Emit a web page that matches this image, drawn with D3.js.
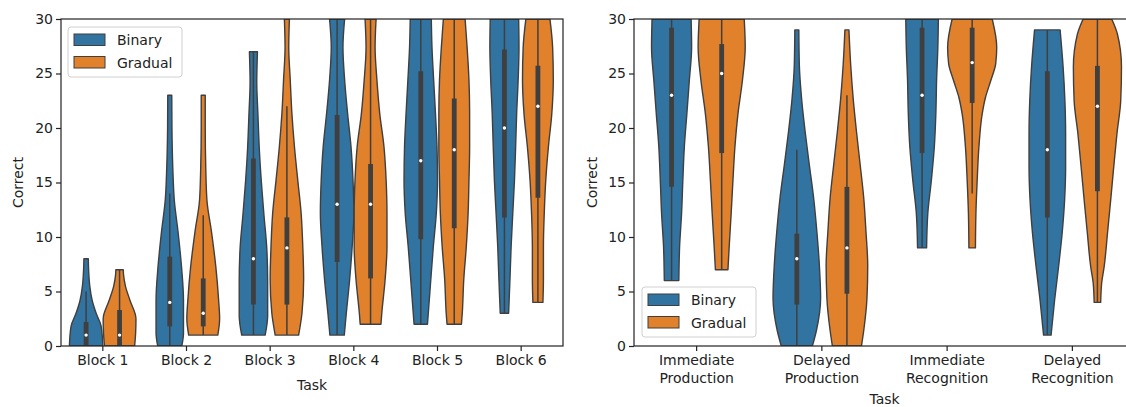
<!DOCTYPE html>
<html>
<head>
<meta charset="utf-8">
<script src="https://cdn.jsdelivr.net/npm/d3@7"></script>
<style>
  html, body { margin: 0; padding: 0; background: #fff; }
  svg { display: block; font-family: 'DejaVu Sans', sans-serif; }
</style>
</head>
<body>
<svg id="chart" width="1126" height="407"></svg>
<script>
'use strict';

// categories
const leftTasks = ['Block 1', 'Block 2', 'Block 3', 'Block 4', 'Block 5', 'Block 6'];
const rightTasks = ['Immediate\nProduction', 'Delayed\nProduction', 'Immediate\nRecognition', 'Delayed\nRecognition'];
const groups = ['Binary', 'Gradual'];
const yTicks = [0, 5, 10, 15, 20, 25, 30];

// box stats per violin: [whisker low, q1, median, q3, whisker high]
const leftBinaryBox = [
  [0, 0, 1, 2.2, 5], [0, 1.8, 4, 8.2, 14], [1, 3.8, 8, 17.2, 27],
  [1, 7.7, 13, 21.2, 30], [2, 9.8, 17, 25.2, 30], [3, 11.8, 20, 27.2, 30]
];
const leftGradualBox = [
  [0, 0, 1, 3.3, 7], [1, 1.8, 3, 6.2, 12], [1, 3.8, 9, 11.8, 22],
  [2, 6.2, 13, 16.7, 30], [2, 10.8, 18, 22.7, 30], [4, 13.6, 22, 25.7, 30]
];
const rightBinaryBox = [
  [6, 14.6, 23, 29.2, 30], [0, 3.8, 8, 10.3, 18], [9, 17.7, 23, 29.2, 30], [1, 11.8, 18, 25.2, 29]
];
const rightGradualBox = [
  [7, 17.7, 25, 27.7, 30], [0, 4.8, 9, 14.6, 23], [14, 22.3, 26, 29.2, 30], [4, 14.2, 22, 25.7, 30]
];

// violin shapes: [value, relative density] from min to max
const leftBinaryShape = [
  [[0, 1.0], [1.8, 0.90], [3, 0.6], [4.2, 0.36], [5.5, 0.22], [7, 0.15], [8, 0.13]],
  [[0, 0.72], [1.2, 0.82], [4.2, 0.82], [7.3, 0.70], [10.4, 0.50], [13.4, 0.27], [16.4, 0.18], [20, 0.13], [23, 0.12]],
  [[1, 0.70], [2.8, 0.85], [5.9, 0.85], [8.9, 0.80], [12, 0.63], [15.1, 0.47], [18.1, 0.35], [21.2, 0.27], [24.2, 0.20], [27, 0.24]],
  [[1, 0.43], [3, 0.55], [6.1, 0.75], [9.1, 0.90], [12.2, 1.0], [15.2, 0.95], [18.3, 0.83], [21.3, 0.63], [24.4, 0.45], [27.4, 0.35], [30, 0.45]],
  [[2, 0.40], [3, 0.45], [6.1, 0.60], [9.1, 0.75], [12.2, 0.93], [15.2, 1.0], [18.3, 0.97], [21.3, 0.88], [24.4, 0.77], [27.4, 0.67], [30, 0.63]],
  [[3, 0.25], [6.1, 0.33], [9.1, 0.40], [12.2, 0.50], [15.2, 0.60], [18.3, 0.67], [21.3, 0.73], [24.4, 0.82], [27.4, 0.87], [30, 0.85]]
];
const leftGradualShape = [
  [[0, 0.90], [1.2, 0.96], [2.5, 0.98], [4.2, 0.62], [5.5, 0.35], [6.5, 0.24], [7, 0.22]],
  [[1, 0.87], [2.5, 0.98], [4.2, 0.92], [7.3, 0.75], [10.4, 0.50], [13.4, 0.22], [16.4, 0.15], [20, 0.12], [23, 0.12]],
  [[1, 0.70], [3, 0.90], [6.1, 1.0], [9.1, 0.95], [12.2, 0.85], [15.2, 0.65], [18.3, 0.45], [21.3, 0.30], [24.4, 0.20], [27.4, 0.11], [30, 0.15]],
  [[2, 0.62], [3, 0.67], [6.1, 0.87], [9.1, 0.98], [12.2, 0.98], [15.2, 0.93], [18.3, 0.80], [21.3, 0.55], [24.4, 0.38], [27.4, 0.27], [30, 0.33]],
  [[2, 0.43], [3, 0.48], [6.1, 0.57], [9.1, 0.72], [12.2, 0.83], [15.2, 0.88], [18.3, 0.92], [21.3, 0.92], [24.4, 0.88], [27.4, 0.77], [30, 0.65]],
  [[4, 0.30], [6.1, 0.33], [9.1, 0.33], [12.2, 0.38], [15.2, 0.47], [18.3, 0.63], [21.3, 0.83], [24.4, 0.92], [27.4, 0.88], [30, 0.72]]
];
const rightBinaryShape = [
  [[6, 0.29], [9.1, 0.32], [12.2, 0.40], [15.2, 0.45], [18.3, 0.51], [21.3, 0.61], [24.4, 0.71], [27.4, 0.80], [30, 0.78]],
  [[0, 0.62], [1.4, 0.78], [4.4, 0.95], [7.4, 0.90], [10.5, 0.80], [13.6, 0.67], [16.6, 0.50], [19.7, 0.33], [22.7, 0.19], [25.8, 0.10], [29, 0.08]],
  [[9, 0.18], [12.2, 0.23], [15.2, 0.37], [18.3, 0.49], [21.3, 0.55], [24.4, 0.58], [27.4, 0.63], [30, 0.65]],
  [[1, 0.15], [4.2, 0.29], [7.3, 0.45], [10.3, 0.59], [13.4, 0.69], [16.4, 0.73], [19.5, 0.73], [22.6, 0.70], [25.6, 0.63], [29, 0.51]]
];
const rightGradualShape = [
  [[7, 0.25], [9.1, 0.30], [12.2, 0.38], [15.2, 0.45], [18.3, 0.53], [21.3, 0.65], [24.4, 0.83], [27.4, 0.94], [30, 0.90]],
  [[0, 0.58], [1.4, 0.67], [4.4, 0.80], [7.4, 0.83], [10.5, 0.76], [13.6, 0.67], [16.6, 0.53], [19.7, 0.38], [22.7, 0.25], [25.8, 0.15], [29, 0.08]],
  [[9, 0.13], [12.2, 0.15], [15.2, 0.20], [18.3, 0.27], [21.3, 0.40], [22.8, 0.53], [24.4, 0.75], [25.9, 0.94], [27.4, 0.98], [30, 0.80]],
  [[4, 0.13], [5.8, 0.17], [7.3, 0.27], [10.3, 0.40], [13.4, 0.53], [16.4, 0.65], [19.5, 0.78], [22.5, 0.93], [25.6, 0.96], [28.6, 0.80], [30, 0.57]]
];

const colors = d3.scaleOrdinal().domain(groups).range(['#3274a1', '#e1812c']);
const lineColor = '#3f3f3f';
const plotTop = 19, plotBottom = 346;

const svg = d3.select('#chart');

function drawPanel(opts) {
  const g = svg.append('g');

  const x = d3.scaleBand().domain(opts.tasks).range(opts.xRange);
  const hue = d3.scaleBand().domain(groups).range([x.bandwidth() * 0.1, x.bandwidth() * 0.9]);
  const w = d3.scaleLinear().domain([0, 1]).range([0, hue.bandwidth() / 2]);
  const y = d3.scaleLinear().domain([0, 30]).range([plotBottom, plotTop]);

  const clipId = 'clip-' + opts.id;
  g.append('clipPath').attr('id', clipId)
    .append('rect')
    .attr('x', opts.xRange[0]).attr('y', plotTop)
    .attr('width', opts.xRange[1] - opts.xRange[0]).attr('height', plotBottom - plotTop);

  const plot = g.append('g').attr('clip-path', `url(#${clipId})`);

  const area = d3.area()
    .curve(d3.curveMonotoneY)
    .y(d => y(d[0]));

  groups.forEach((grp, gi) => {
    const shapes = opts.shapes[gi];
    const boxes = opts.boxes[gi];
    opts.tasks.forEach((task, ti) => {
      const cx = x(task) + hue(grp) + hue.bandwidth() / 2;
      plot.append('path')
        .datum(shapes[ti])
        .attr('d', area.x0(d => cx - w(d[1])).x1(d => cx + w(d[1])))
        .attr('fill', colors(grp))
        .attr('stroke', lineColor)
        .attr('stroke-width', 1.4)
        .attr('stroke-linejoin', 'round');

      const b = boxes[ti];
      plot.append('line')
        .attr('x1', cx).attr('x2', cx)
        .attr('y1', y(b[0])).attr('y2', y(b[4]))
        .attr('stroke', lineColor).attr('stroke-width', 1.5);
      plot.append('line')
        .attr('x1', cx).attr('x2', cx)
        .attr('y1', y(b[1])).attr('y2', y(b[3]))
        .attr('stroke', lineColor).attr('stroke-width', 4.8);
      plot.append('circle')
        .attr('cx', cx).attr('cy', y(b[2])).attr('r', 1.7)
        .attr('fill', '#fff');
    });
  });

  // Axes
  const yAxis = g.append('g')
    .attr('transform', `translate(${opts.xRange[0]},0)`)
    .call(d3.axisLeft(y).tickValues(yTicks).tickSize(5).tickSizeOuter(0).tickPadding(3));

  const xAxis = g.append('g')
    .attr('transform', `translate(0,${plotBottom})`)
    .call(d3.axisBottom(x).tickSize(5).tickSizeOuter(0).tickPadding(4));

  [yAxis, xAxis].forEach(a => {
    a.select('.domain').remove();
    a.selectAll('.tick line').attr('stroke', '#222').attr('stroke-width', 1.2);
    a.selectAll('.tick text')
      .attr('font-size', 14)
      .attr('font-family', 'DejaVu Sans, sans-serif')
      .attr('fill', '#222');
  });

  // two-line tick labels
  xAxis.selectAll('.tick text').each(function (d) {
    const parts = d.split('\n');
    const t = d3.select(this).text(null);
    parts.forEach((p, i) => {
      t.append('tspan').attr('x', 0).attr('dy', i === 0 ? '0.71em' : '1.3em').text(p);
    });
  });

  // frame
  g.append('rect')
    .attr('x', opts.xRange[0]).attr('y', plotTop)
    .attr('width', opts.xRange[1] - opts.xRange[0]).attr('height', plotBottom - plotTop)
    .attr('fill', 'none').attr('stroke', '#222').attr('stroke-width', 1.2);

  // axis labels
  const mid = (opts.xRange[0] + opts.xRange[1]) / 2;
  g.append('text')
    .attr('x', mid).attr('y', opts.taskY)
    .attr('text-anchor', 'middle')
    .attr('font-size', 14).attr('fill', '#222')
    .text('Task');
  g.append('text')
    .attr('transform', `translate(${opts.labelX},${(plotTop + plotBottom) / 2}) rotate(-90)`)
    .attr('text-anchor', 'middle')
    .attr('dy', '0.35em')
    .attr('font-size', 14).attr('fill', '#222')
    .text('Correct');

  // legend
  const lg = g.append('g').attr('transform', `translate(${opts.legend[0]},${opts.legend[1]})`);
  lg.append('rect')
    .attr('width', 114).attr('height', 50).attr('rx', 3)
    .attr('fill', '#fff').attr('fill-opacity', 0.8)
    .attr('stroke', '#d0d0d0').attr('stroke-width', 1);
  groups.forEach((grp, i) => {
    lg.append('rect')
      .attr('x', 6).attr('y', 7 + i * 22.5)
      .attr('width', 31).attr('height', 11.5)
      .attr('fill', colors(grp))
      .attr('stroke', lineColor).attr('stroke-width', 1);
    lg.append('text')
      .attr('x', 49).attr('y', 18 + i * 22.5)
      .attr('font-size', 14).attr('fill', '#222')
      .text(grp);
  });
}

drawPanel({
  id: 'left', tasks: leftTasks, xRange: [61, 563],
  shapes: [leftBinaryShape, leftGradualShape], boxes: [leftBinaryBox, leftGradualBox],
  taskY: 390, labelX: 18, legend: [68, 27]
});

drawPanel({
  id: 'right', tasks: rightTasks, xRange: [634, 1135],
  shapes: [rightBinaryShape, rightGradualShape], boxes: [rightBinaryBox, rightGradualBox],
  taskY: 404, labelX: 592, legend: [642, 287]
});
</script>
</body>
</html>
